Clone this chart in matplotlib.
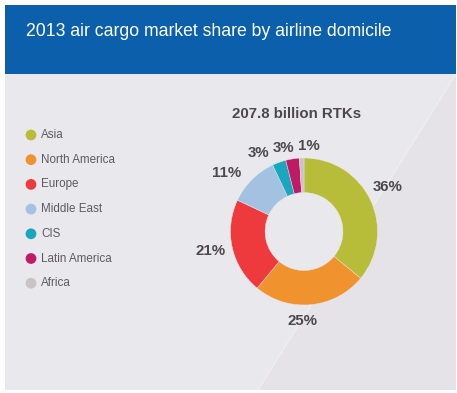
import matplotlib
matplotlib.use("Agg")
import matplotlib.pyplot as plt
from matplotlib.patches import Rectangle, Polygon

# data
regions = ['Asia', 'North America', 'Europe', 'Middle East', 'CIS', 'Latin America', 'Africa']
shares = [36, 25, 21, 11, 3, 3, 1]
colors = ['#b7bd38', '#f0932f', '#ee3a3d', '#a3c2e2', '#18a7bd', '#c01a66', '#c9c3c5']
title = '2013 air cargo market share by airline domicile'
total_label = '207.8 billion RTKs'

# layout, in pixels from the top-left corner
W, H = 457, 393
cx, cy, R = 304, 231.5, 73.5
label_xy = [(388, 187), (302, 321), (211, 251), (227, 173), (259, 153), (284, 148), (309, 146)]

plt.rcParams['font.family'] = ['Liberation Sans', 'DejaVu Sans']

fig = plt.figure(figsize=(W / 100, H / 100), dpi=100)
ax = fig.add_axes([0, 0, 1, 1])

def Y(y):
	return H - y

# panel + header
ax.add_patch(Rectangle((5, Y(390)), 451, 316, facecolor='#e9e8ec', edgecolor='none', zorder=0))
ax.add_patch(Polygon([(456, Y(74)), (456, Y(390)), (258, Y(390))], closed=True,
	facecolor='#e5e3e7', edgecolor='none', zorder=0))
ax.plot([456, 258], [Y(74), Y(390)], color='#f0eff2', lw=0.8, zorder=0.5)
ax.add_patch(Rectangle((5, Y(74)), 451, 69, facecolor='#0b5fab', edgecolor='none', zorder=1))
ax.text(26, Y(32), title, color='white', fontsize=12.7, va='center', ha='left', zorder=2)

# legend
for i, (name, c) in enumerate(zip(regions, colors)):
	yy = Y(135 + i * 24.7)
	ax.scatter([31], [yy], s=60, color=c, edgecolors='none', zorder=3)
	ax.text(41, yy, name, fontsize=8.4, color='#5d5b60', va='center', ha='left', zorder=3)

# donut
ax.pie(shares, colors=colors, startangle=90, counterclock=False, radius=R,
	center=(cx, Y(cy)), wedgeprops=dict(width=R * 0.47, edgecolor='#e9e8ec', linewidth=0.3))

ax.text(297, Y(114), total_label, fontsize=10.8, fontweight='bold', color='#4c494e',
	ha='center', va='center')
for s, (lx, ly) in zip(shares, label_xy):
	ax.text(lx, Y(ly), '%d%%' % s, fontsize=10.8, fontweight='bold', color='#4c494e',
		ha='center', va='center')

ax.set_xlim(0, W)
ax.set_ylim(0, H)
ax.set_aspect('auto')
ax.axis('off')

fig.savefig('out.png', dpi=100, facecolor='white')
